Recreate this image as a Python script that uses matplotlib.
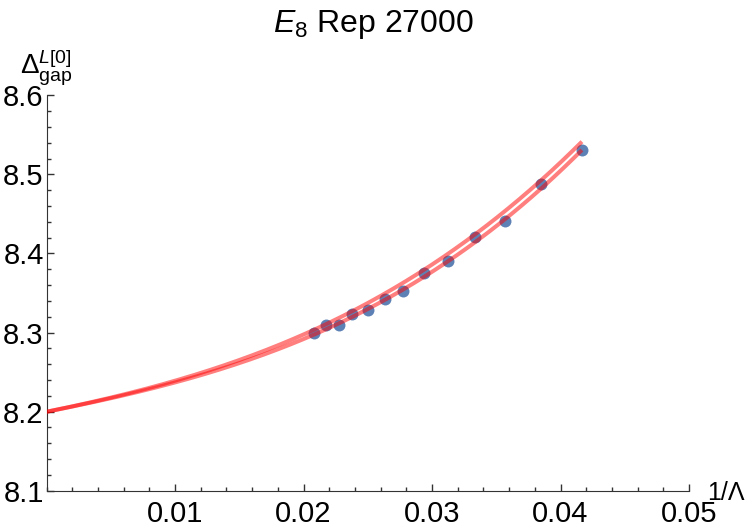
import matplotlib
matplotlib.use('Agg')
import matplotlib.pyplot as plt
import numpy as np
from matplotlib.ticker import MultipleLocator, FixedLocator

plt.rcParams['font.family'] = ['Liberation Sans', 'DejaVu Sans']
plt.rcParams['mathtext.fontset'] = 'custom'
plt.rcParams['mathtext.rm'] = 'Liberation Sans'
plt.rcParams['mathtext.it'] = 'Liberation Sans:italic'

# data points: 1/Lambda for Lambda = 48, 46, ..., 24
lam = np.array([48, 46, 44, 42, 40, 38, 36, 34, 32, 30, 28, 26, 24])
gap = np.array([8.299, 8.309, 8.310, 8.324, 8.328, 8.343, 8.353,
                8.375, 8.390, 8.421, 8.441, 8.488, 8.531])
inv_lam = 1.0 / lam

# the two fit curves at a few x values
curve_x = [0.0, 0.01, 0.02, 0.03, 1/24]
curve_hi = [8.200, 8.238, 8.299, 8.385, 8.5416]
curve_lo = [8.200, 8.236, 8.293, 8.376, 8.531]

blue = '#5e81b5'

fig = plt.figure(figsize=(7.5, 5.3), dpi=100)
ax = fig.add_axes([0.062, 0.0742, 0.8567, 0.746])

ax.plot(inv_lam, gap, 'o', color=blue, ms=8.6, mec='none', zorder=2)

xx = np.linspace(0, 1/24, 300)
for c in (curve_hi, curve_lo):
    p = np.polyfit(curve_x, c, 3)
    ax.plot(xx, np.polyval(p, xx), color='red', alpha=0.5, lw=2.9,
            solid_capstyle='butt', zorder=3)

ax.set_xlim(0, 0.05)
ax.set_ylim(8.1, 8.6)
ax.spines['top'].set_visible(False)
ax.spines['right'].set_visible(False)
ax.xaxis.set_major_locator(FixedLocator([0.01, 0.02, 0.03, 0.04, 0.05]))
ax.xaxis.set_minor_locator(MultipleLocator(0.002))
ax.yaxis.set_major_locator(MultipleLocator(0.1))
ax.yaxis.set_minor_locator(MultipleLocator(0.02))
ax.xaxis.set_major_formatter(plt.FuncFormatter(lambda v, p: f'{v:.2f}'))
ax.yaxis.set_major_formatter(plt.FuncFormatter(lambda v, p: f'{v:.1f}'))
ax.tick_params(which='both', direction='in', labelsize=21, width=1, color='#333333')
ax.tick_params(which='major', length=5)
ax.tick_params(which='minor', length=3)
ax.tick_params(axis='x', pad=7)
ax.tick_params(axis='y', pad=2)
for s in ax.spines.values():
    s.set_color('#333333')

fig.text(0.498, 0.985, r'$E_8$ Rep 27000', ha='center', va='top', fontsize=23)
fig.text(0.027, 0.862, r'$\Delta^{L[0]}_{\mathrm{gap}}$', ha='left', va='baseline', fontsize=20)
fig.text(0.943, 0.0566, '1/Λ', ha='left', va='baseline', fontsize=18)

fig.savefig('out.png', dpi=100)
